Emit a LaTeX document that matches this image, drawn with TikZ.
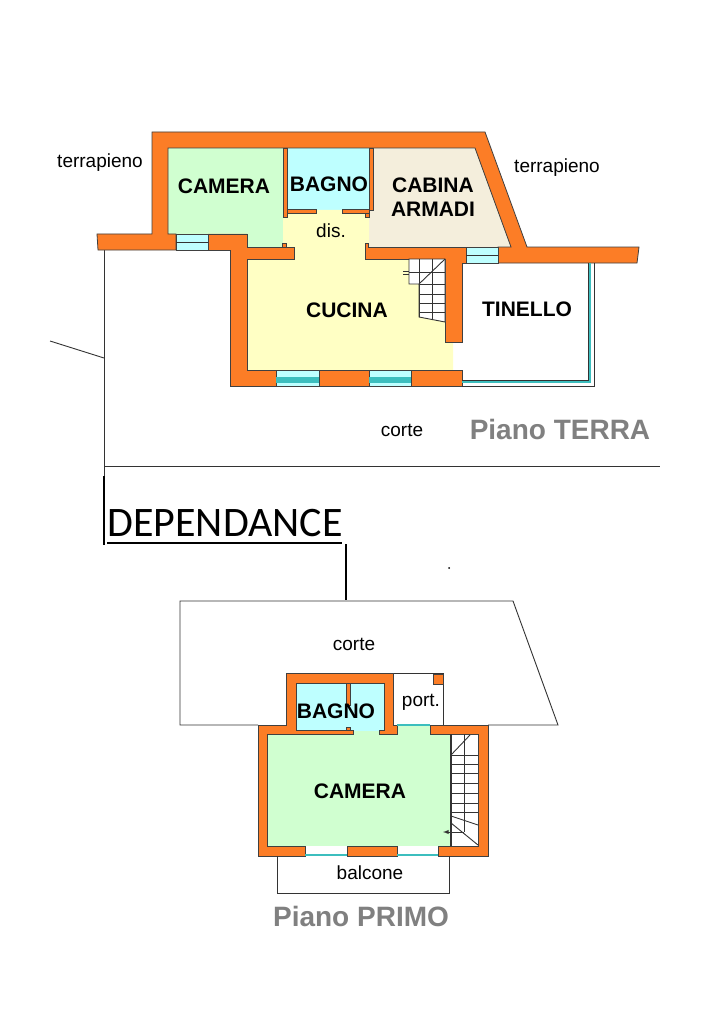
\documentclass[tikz,border=0pt]{standalone}
\usepackage{fontspec}
\setmainfont{Liberation Sans}
\newfontfamily\dependfont{Carlito}
\definecolor{wallc}{RGB}{252,125,38}
\definecolor{greenc}{RGB}{208,255,208}
\definecolor{cyanc}{RGB}{190,255,255}
\definecolor{yellowc}{RGB}{255,255,196}
\definecolor{beigec}{RGB}{244,238,220}
\definecolor{tealc}{RGB}{60,190,190}
\definecolor{greyc}{RGB}{128,128,128}
\tikzset{
    wall/.style={fill=wallc, draw=black!75, line width=0.8pt},
    glass/.style={fill=cyanc, draw=black!75, line width=0.6pt},
    thinline/.style={draw=black!80, line width=0.9pt},
    roomlabel/.style={font=\fontsize{21}{24}\selectfont\bfseries, align=center, inner sep=0pt},
    smalllabel/.style={font=\fontsize{19}{22}\selectfont, inner sep=0pt},
    floorlabel/.style={font=\fontsize{28}{32}\selectfont\bfseries, text=greyc, inner sep=0pt}
}

\begin{document}
\begin{tikzpicture}[x=1pt, y=-1pt]
    \useasboundingbox[fill=white] (0,0) rectangle (709,1024);

    % Site lines:
    \draw[thinline] (104,250) -- (104,476);
    \draw[thinline] (104,466) -- (660,466);
    \draw[thinline] (50,341) -- (104,358);
    \draw[line width=2pt] (104,476) -- (104,545);
    \draw[line width=2pt] (107,543) -- (342,543);
    \draw[line width=2pt] (346,544) -- (346,600);
    \fill (449,568) circle (1pt);

    % Ground floor, rooms:
    \fill[greenc] (168,148) -- (283,148) -- (283,247) -- (247,247) -- (247,234) -- (168,234) -- cycle;
    \fill[cyanc] (287,148) rectangle (369,210);
    \fill[beigec] (369,148) -- (475,148) -- (511,247) -- (369,247) -- cycle;
    \fill[yellowc] (283,210) -- (369,210) -- (369,259) -- (445,259) -- (445,342) -- (453,342) -- (453,370) -- (247,370) -- (247,259) -- (283,259) -- cycle;

    % Ground floor, walls:
    \draw[wall] (152,132) -- (485,132) -- (527,247) -- (639,247) -- (637,263) -- (498,263) -- (498,247) -- (511,247) -- (475,148)
        -- (168,148) -- (168,234) -- (176,234) -- (176,250) -- (98,250) -- (97,234) -- (152,234) -- cycle;
    \draw[wall] (208,234) -- (247,234) -- (247,247) -- (294,247) -- (294,259) -- (247,259) -- (247,370) -- (276,370) -- (276,386)
        -- (230,386) -- (230,250) -- (208,250) -- cycle;
    \draw[wall] (365,259) -- (365,243) -- (368,243) -- (368,247) -- (466,247) -- (466,263) -- (462,263) -- (462,342) -- (445,342) -- (445,259) -- cycle;
    \draw[wall] (319,370) rectangle (369,386);
    \draw[wall] (411,370) rectangle (462,386);
    \draw[wall] (283,148) rectangle (287,217);
    \draw[wall] (369,148) rectangle (373,210);
    \draw[wall] (287,209) rectangle (316,213);
    \draw[wall] (342,209) rectangle (369,213);
    \draw[wall] (365,213) rectangle (369,217);
    \draw[wall] (282,243) -- (286,243) -- (286,247) -- (282,247) -- cycle;

    % Ground floor, windows:
    \draw[glass] (176,234) rectangle (208,250);
    \draw[glass] (466,247) rectangle (498,263);
    \draw[glass] (276,370) rectangle (319,386);
    \draw[glass] (369,370) rectangle (411,386);
    \draw[thinline] (176,242) -- (208,242);
    \draw[thinline] (466,255) -- (498,255);
    \foreach \xa/\xb in {276/319, 369/411}
        \fill[tealc] (\xa,377) rectangle (\xb,383);

    % Veranda:
    \draw[thinline] (462,386) -- (594,386) -- (594,263);
    \draw[tealc, line width=1.5pt] (462,382) -- (590,382) -- (590,263);
    \draw[thinline] (462,380) -- (588,380) -- (588,263);

    % Ground floor, stairs:
    \draw[thinline, fill=white] (409,259) -- (445,259) -- (445,322) -- (419,317) -- (419,284) -- (409,284) -- cycle;
    \foreach \y in {284,294,303,312}
        \draw[thinline] (419,\y) -- (445,\y);
    \draw[thinline] (419,259) -- (419,317);
    \draw[thinline] (432,259) -- (432,320);
    \draw[thinline] (409,272) -- (445,272);
    \draw[thinline] (419,284) -- (445,259);
    \draw[thinline] (403,271) -- (409,271);
    \draw[thinline] (403,274) -- (409,274);

    % Ground floor, labels:
    \node[smalllabel] (terraleft) at (100,163) {terrapieno};
    \node[smalllabel] (terraright) at (557,168) {terrapieno};
    \node[roomlabel] (camera) at (224,186) {CAMERA};
    \node[roomlabel] (bagno) at (329,184) {BAGNO};
    \node[roomlabel] (cabina) at (433,197) {CABINA\\ARMADI};
    \node[smalllabel] (dis) at (331,231) {dis.};
    \node[roomlabel] (cucina) at (347,310) {CUCINA};
    \node[roomlabel] (tinello) at (527,309) {TINELLO};
    \node[smalllabel] (corte) at (402,430) {corte};
    \node[floorlabel] (terra) at (560,429) {Piano TERRA};
    \node[inner sep=0pt, font=\dependfont\fontsize{42}{46}\selectfont] (depend) at (225,523) {DEPENDANCE};

    % First floor, court:
    \draw[thinline] (258,725) -- (180,725) -- (180,601) -- (513,601) -- (558,725) -- (488,725);

    % First floor, rooms:
    \fill[cyanc] (296,683) rectangle (384,731);
    \fill[greenc] (267,734) rectangle (451,846);
    \fill[greenc] (353,731) rectangle (379,734);
    \fill[greenc] (397,725) rectangle (430,734);
    \fill[white] (393,673) rectangle (443,725);
    \draw[thinline] (393,673) -- (443,673) -- (443,725);
    \fill[white] (451,734) rectangle (478,846);

    % First floor, walls:
    \draw[wall] (286,673) -- (393,673) -- (393,725) -- (397,725) -- (397,734) -- (379,734) -- (379,730) -- (384,730) -- (384,683) -- (296,683)
        -- (296,730) -- (353,730) -- (353,734) -- (267,734) -- (267,846) -- (305,846) -- (305,856) -- (258,856) -- (258,725) -- (286,725) -- cycle;
    \draw[wall] (430,725) -- (488,725) -- (488,856) -- (438,856) -- (438,846) -- (478,846) -- (478,734) -- (430,734) -- cycle;
    \draw[wall] (347,846) rectangle (397,856);
    \draw[wall] (346,683) rectangle (350,705);
    \draw[wall] (346,727) rectangle (350,730);
    \draw[wall] (433,674) rectangle (443,684);

    % First floor, windows:
    \draw[tealc, line width=1.5pt] (397,725) -- (430,725);
    \foreach \xa/\xb in {305/347, 397/438}
        \draw[tealc, line width=1.5pt] (\xa,855) -- (\xb,855);

    % First floor, stairs:
    \draw[thinline, line width=1.2pt] (451,734) -- (451,846);
    \foreach \y in {755,764,773,783,793,803,812}
        \draw[thinline] (451,\y) -- (478,\y);
    \draw[thinline] (464,734) -- (464,832);
    \draw[thinline] (451,755) -- (470,735);
    \draw[thinline] (451,816) -- (478,825);
    \draw[thinline] (451,823) -- (478,845);
    \draw[thinline, -latex] (464,832) -- (443,832);

    % Balcony:
    \draw[thinline] (277,856) -- (277,893) -- (449,893) -- (449,856);

    % First floor, labels:
    \node[smalllabel] (cortetwo) at (354,644) {corte};
    \node[smalllabel] (port) at (421,702) {port.};
    \node[roomlabel] (bagnotwo) at (336,711) {BAGNO};
    \node[roomlabel] (cameratwo) at (360,791) {CAMERA};
    \node[smalllabel] (balcone) at (370,873) {balcone};
    \node[floorlabel] (primo) at (361,916) {Piano PRIMO};
\end{tikzpicture}
\end{document}
